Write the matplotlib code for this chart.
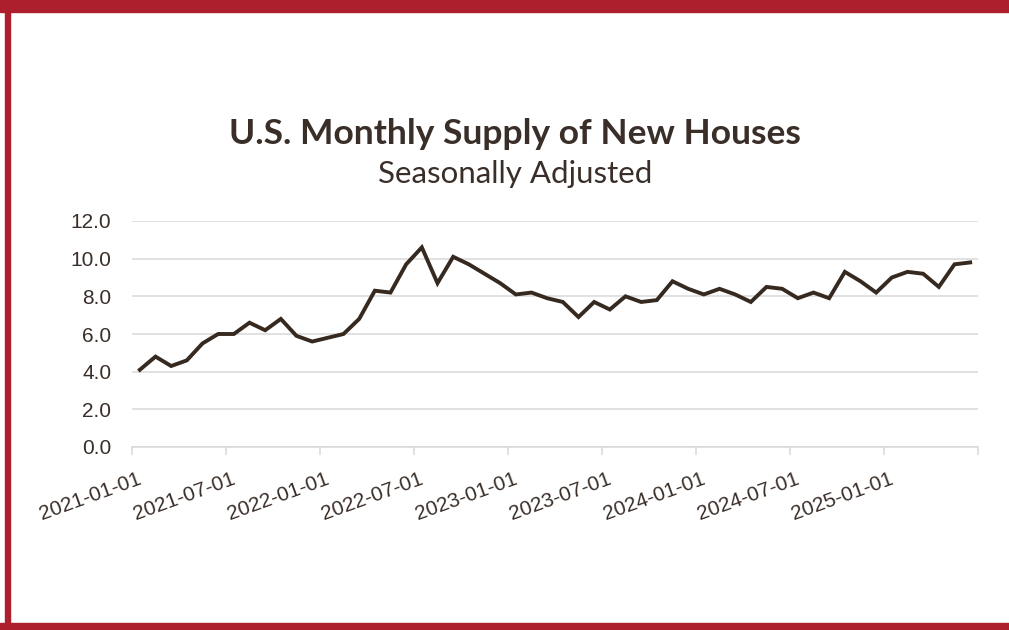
import matplotlib
matplotlib.use('Agg')
import matplotlib.pyplot as plt
import matplotlib.transforms as mtransforms
from matplotlib.patches import Rectangle

# datos (meses 2021-01 .. 2025-06)
meses = ['2021-01-01', '2021-02-01', '2021-03-01', '2021-04-01', '2021-05-01', '2021-06-01',
         '2021-07-01', '2021-08-01', '2021-09-01', '2021-10-01', '2021-11-01', '2021-12-01',
         '2022-01-01', '2022-02-01', '2022-03-01', '2022-04-01', '2022-05-01', '2022-06-01',
         '2022-07-01', '2022-08-01', '2022-09-01', '2022-10-01', '2022-11-01', '2022-12-01',
         '2023-01-01', '2023-02-01', '2023-03-01', '2023-04-01', '2023-05-01', '2023-06-01',
         '2023-07-01', '2023-08-01', '2023-09-01', '2023-10-01', '2023-11-01', '2023-12-01',
         '2024-01-01', '2024-02-01', '2024-03-01', '2024-04-01', '2024-05-01', '2024-06-01',
         '2024-07-01', '2024-08-01', '2024-09-01', '2024-10-01', '2024-11-01', '2024-12-01',
         '2025-01-01', '2025-02-01', '2025-03-01', '2025-04-01', '2025-05-01', '2025-06-01']
oferta = [4.1, 4.8, 4.3, 4.6, 5.5, 6.0, 6.0, 6.6, 6.2, 6.8, 5.9, 5.6,
          5.8, 6.0, 6.8, 8.3, 8.2, 9.7, 10.6, 8.7, 10.1, 9.7, 9.2, 8.7,
          8.1, 8.2, 7.9, 7.7, 6.9, 7.7, 7.3, 8.0, 7.7, 7.8, 8.8, 8.4,
          8.1, 8.4, 8.1, 7.7, 8.5, 8.4, 7.9, 8.2, 7.9, 9.3, 8.8, 8.2,
          9.0, 9.3, 9.2, 8.5, 9.7, 9.8]
yticks = [0, 2, 4, 6, 8, 10, 12]

color_linea = '#352920'
color_texto = '#3a2e28'
color_rejilla = '#d9d9d9'
rojo = '#ad1f2c'

W, H = 1009, 630
fig = plt.figure(figsize=(W / 100, H / 100), dpi=100)

# marco rojo
fig.patches.append(Rectangle((0, 1 - 12 / H), 1, 12 / H, transform=fig.transFigure, color=rojo, zorder=0))
fig.patches.append(Rectangle((5 / W, 0), 5 / W, 1, transform=fig.transFigure, color=rojo, zorder=0))
fig.patches.append(Rectangle((0, 0), 1, 7 / H, transform=fig.transFigure, color=rojo, zorder=0))

ax = fig.add_axes([132 / W, (H - 447) / H, (978 - 132) / W, (447 - 221) / H])
x = list(range(len(oferta)))
ax.plot(x, oferta, color=color_linea, lw=2.8, solid_joinstyle='miter', zorder=3)

ax.set_xlim(-0.5, len(oferta) - 0.5)
ax.set_ylim(0, 12)

# rejilla horizontal
ax.set_yticks(yticks)
ax.set_yticklabels(['%.1f' % v for v in yticks], fontsize=15, color=color_texto,
                   family='Liberation Sans')
ax.yaxis.grid(True, color=color_rejilla, lw=1.1)
ax.set_axisbelow(True)
ax.tick_params(axis='y', length=0, pad=15)

# eje x de categorias, marcas cada 6 meses
pos = [i - 0.5 for i in range(0, len(oferta) + 1, 6)]
etiquetas = [meses[i] if i < len(meses) else '' for i in range(0, len(oferta) + 1, 6)]
ax.set_xticks(pos)
ax.set_xticklabels(etiquetas, rotation=20, ha='right', va='top', rotation_mode='anchor',
                   fontsize=15, color=color_texto, family='Liberation Sans')
ax.tick_params(axis='x', length=6, color=color_rejilla, width=1.1, pad=10)
desplazamiento = mtransforms.ScaledTranslation(5 / 100, 0, fig.dpi_scale_trans)
for lab in ax.get_xticklabels():
    lab.set_transform(lab.get_transform() + desplazamiento)

for s in ['top', 'right', 'left']:
    ax.spines[s].set_visible(False)
ax.spines['bottom'].set_color(color_rejilla)
ax.spines['bottom'].set_linewidth(1.1)

fig.text(515 / W, 1 - 134 / H, 'U.S. Monthly Supply of New Houses', ha='center', va='center',
         fontsize=25.5, fontweight='bold', color=color_texto, family='Lato')
fig.text(515 / W, 1 - 174 / H, 'Seasonally Adjusted', ha='center', va='center',
         fontsize=22.5, color=color_texto, family='Lato')

fig.savefig('out.png', dpi=100)
